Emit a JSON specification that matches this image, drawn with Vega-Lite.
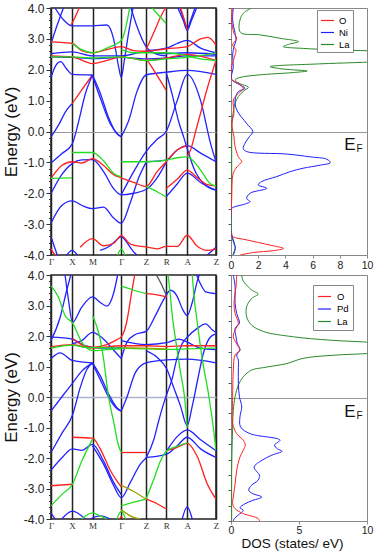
{
"$schema":"https://vega.github.io/schema/vega-lite/v6.json",
"padding":{"left":1,"top":1,"right":0,"bottom":0},
"config":{"font":"Liberation Sans","axis":{"labelFont":"Liberation Sans","titleFont":"Liberation Sans","labelOverlap":false}},
"datasets":{
"ef":[{"t":"E","d":8.75,"e":-0.45,"s":17},{"t":"F","d":9.45,"e":-0.58,"s":10}],
"bNi":[
{"b":"T1","c":"b","k":153,"e":-0.17},{"b":"T1","c":"b","k":175,"e":0.2},{"b":"T1","c":"b","k":200,"e":0.7},{"b":"T1","c":"b","k":216,"e":0.9},
{"b":"R1","c":"r","k":216,"e":0.9},{"b":"R1","c":"r","k":245,"e":1.35},{"b":"R1","c":"r","k":277,"e":1.83},
{"b":"T2","c":"b","k":153,"e":-1.02},{"b":"T2","c":"b","k":185,"e":-0.72},{"b":"T2","c":"b","k":216,"e":-0.41},{"b":"T2","c":"b","k":235,"e":0.3},{"b":"T2","c":"b","k":255,"e":1.2},{"b":"T2","c":"b","k":277,"e":1.83},
{"b":"T3","c":"b","k":277,"e":1.83},{"b":"T3","c":"b","k":300,"e":1.25},{"b":"T3","c":"b","k":325,"e":0.45},{"b":"T3","c":"b","k":348,"e":-0.05},{"b":"T3","c":"b","k":363,"e":-0.17},
{"b":"T4","c":"b","k":277,"e":1.8},{"b":"T4","c":"b","k":303,"e":1.0},{"b":"T4","c":"b","k":330,"e":0.25},{"b":"T4","c":"b","k":352,"e":-0.08},{"b":"T4","c":"b","k":363,"e":-0.17},
{"b":"T5","c":"b","k":363,"e":-0.17},{"b":"T5","c":"b","k":385,"e":0.35},{"b":"T5","c":"b","k":410,"e":1.3},{"b":"T5","c":"b","k":437,"e":1.83},{"b":"T5","c":"b","k":497,"e":1.92},{"b":"T5","c":"b","k":560,"e":1.98},{"b":"T5","c":"b","k":646,"e":1.85},
{"b":"T6","c":"b","k":153,"e":1.75},{"b":"T6","c":"b","k":168,"e":2.15},{"b":"T6","c":"b","k":182,"e":2.26},{"b":"T6","c":"b","k":198,"e":2.05},{"b":"T6","c":"b","k":216,"e":1.85},{"b":"T6","c":"b","k":277,"e":1.83},
{"b":"T7","c":"b","k":165,"e":4.0},{"b":"T7","c":"b","k":190,"e":3.62},{"b":"T7","c":"b","k":216,"e":3.42},{"b":"T7","c":"b","k":277,"e":3.42},{"b":"T7","c":"b","k":320,"e":3.45},{"b":"T7","c":"b","k":340,"e":3.0},{"b":"T7","c":"b","k":355,"e":2.1},{"b":"T7","c":"b","k":363,"e":1.75},{"b":"T7","c":"b","k":372,"e":2.3},{"b":"T7","c":"b","k":385,"e":3.2},{"b":"T7","c":"b","k":398,"e":4.0},
{"b":"T8","c":"b","k":153,"e":2.85},{"b":"T8","c":"b","k":170,"e":3.4},{"b":"T8","c":"b","k":190,"e":4.0},
{"b":"T9","c":"b","k":153,"e":2.52},{"b":"T9","c":"b","k":216,"e":2.58},{"b":"T9","c":"b","k":277,"e":2.45},{"b":"T9","c":"b","k":363,"e":2.45},{"b":"T9","c":"b","k":437,"e":2.58},{"b":"T9","c":"b","k":497,"e":2.52},{"b":"T9","c":"b","k":560,"e":2.55},{"b":"T9","c":"b","k":646,"e":2.5},
{"b":"T10","c":"b","k":153,"e":2.42},{"b":"T10","c":"b","k":216,"e":2.4},{"b":"T10","c":"b","k":277,"e":2.36},{"b":"T10","c":"b","k":363,"e":2.4},{"b":"T10","c":"b","k":437,"e":2.35},{"b":"T10","c":"b","k":497,"e":2.38},{"b":"T10","c":"b","k":560,"e":2.45},{"b":"T10","c":"b","k":646,"e":2.45},
{"b":"T11","c":"b","k":437,"e":2.62},{"b":"T11","c":"b","k":497,"e":2.7},{"b":"T11","c":"b","k":530,"e":2.85},{"b":"T11","c":"b","k":560,"e":2.95},{"b":"T11","c":"b","k":600,"e":2.7},{"b":"T11","c":"b","k":646,"e":2.55},
{"b":"T12","c":"b","k":532,"e":4.0},{"b":"T12","c":"b","k":548,"e":3.6},{"b":"T12","c":"b","k":560,"e":3.27},{"b":"T12","c":"b","k":573,"e":3.6},{"b":"T12","c":"b","k":588,"e":4.0},
{"b":"T12b","c":"b","k":538,"e":4.0},{"b":"T12b","c":"b","k":551,"e":3.6},{"b":"T12b","c":"b","k":560,"e":3.32},{"b":"T12b","c":"b","k":570,"e":3.6},{"b":"T12b","c":"b","k":583,"e":4.0},
{"b":"T13","c":"b","k":497,"e":1.92},{"b":"T13","c":"b","k":515,"e":1.2},{"b":"T13","c":"b","k":535,"e":0.3},{"b":"T13","c":"b","k":550,"e":-0.2},{"b":"T13","c":"b","k":560,"e":-0.55},{"b":"T13","c":"b","k":580,"e":-1.2},{"b":"T13","c":"b","k":610,"e":-1.7},{"b":"T13","c":"b","k":646,"e":-1.9},
{"b":"T14","c":"b","k":437,"e":-0.98},{"b":"T14","c":"b","k":497,"e":-0.93},{"b":"T14","c":"b","k":530,"e":-0.6},{"b":"T14","c":"b","k":560,"e":-0.46},{"b":"T14","c":"b","k":600,"e":-0.7},{"b":"T14","c":"b","k":646,"e":-0.98},
{"b":"T15","c":"b","k":363,"e":-2.05},{"b":"T15","c":"b","k":400,"e":-1.3},{"b":"T15","c":"b","k":437,"e":-0.65},{"b":"T15","c":"b","k":470,"e":-0.25},{"b":"T15","c":"b","k":497,"e":0.0},{"b":"T15","c":"b","k":530,"e":1.0},{"b":"T15","c":"b","k":560,"e":1.85},{"b":"T15","c":"b","k":600,"e":1.0},{"b":"T15","c":"b","k":630,"e":-0.4},{"b":"T15","c":"b","k":646,"e":-0.98},
{"b":"T16","c":"b","k":153,"e":-2.01},{"b":"T16","c":"b","k":185,"e":-1.4},{"b":"T16","c":"b","k":216,"e":-1.04},{"b":"T16","c":"b","k":245,"e":-0.92},{"b":"T16","c":"b","k":277,"e":-0.91},{"b":"T16","c":"b","k":310,"e":-1.3},{"b":"T16","c":"b","k":340,"e":-1.85},{"b":"T16","c":"b","k":363,"e":-2.05},{"b":"T16","c":"b","k":400,"e":-2.0},{"b":"T16","c":"b","k":437,"e":-1.88},{"b":"T16","c":"b","k":470,"e":-1.5},{"b":"T16","c":"b","k":497,"e":-1.0},
{"b":"T17","c":"b","k":153,"e":-2.97},{"b":"T17","c":"b","k":185,"e":-2.4},{"b":"T17","c":"b","k":216,"e":-2.25},{"b":"T17","c":"b","k":250,"e":-2.42},{"b":"T17","c":"b","k":277,"e":-2.5},{"b":"T17","c":"b","k":310,"e":-2.45},{"b":"T17","c":"b","k":340,"e":-2.8},{"b":"T17","c":"b","k":363,"e":-2.97},{"b":"T17","c":"b","k":390,"e":-2.3},{"b":"T17","c":"b","k":415,"e":-1.5},{"b":"T17","c":"b","k":437,"e":-1.0},
{"b":"T18","c":"b","k":153,"e":-3.4},{"b":"T18","c":"b","k":162,"e":-3.7},{"b":"T18","c":"b","k":172,"e":-4.0},
{"b":"T19","c":"b","k":200,"e":-4.0},{"b":"T19","c":"b","k":216,"e":-3.85},{"b":"T19","c":"b","k":232,"e":-4.0},
{"b":"T20","c":"b","k":300,"e":-3.85},{"b":"T20","c":"b","k":330,"e":-3.7},{"b":"T20","c":"b","k":350,"e":-3.5},{"b":"T20","c":"b","k":363,"e":-3.4},{"b":"T20","c":"b","k":380,"e":-3.6},{"b":"T20","c":"b","k":400,"e":-3.9},{"b":"T20","c":"b","k":410,"e":-4.0},
{"b":"T21","c":"b","k":497,"e":-2.12},{"b":"T21","c":"b","k":530,"e":-1.7},{"b":"T21","c":"b","k":560,"e":-1.35},{"b":"T21","c":"b","k":600,"e":-1.65},{"b":"T21","c":"b","k":646,"e":-1.9},
{"b":"T23","c":"b","k":620,"e":-4.0},{"b":"T23","c":"b","k":646,"e":-3.75},
{"b":"T25","c":"b","k":392,"e":4.0},{"b":"T25","c":"b","k":410,"e":3.4},{"b":"T25","c":"b","k":437,"e":2.75},{"b":"T25","c":"b","k":470,"e":2.5},{"b":"T25","c":"b","k":497,"e":2.45},
{"b":"R2","c":"r","k":153,"e":2.9},{"b":"R2","c":"r","k":216,"e":2.85},{"b":"R2","c":"r","k":245,"e":2.62},{"b":"R2","c":"r","k":277,"e":2.55},{"b":"R2","c":"r","k":320,"e":2.65},{"b":"R2","c":"r","k":363,"e":2.75},{"b":"R2","c":"r","k":400,"e":2.62},{"b":"R2","c":"r","k":437,"e":2.6},{"b":"R2","c":"r","k":497,"e":2.68},{"b":"R2","c":"r","k":560,"e":2.75},{"b":"R2","c":"r","k":600,"e":3.0},{"b":"R2","c":"r","k":622,"e":3.05},{"b":"R2","c":"r","k":646,"e":2.8},
{"b":"R3","c":"r","k":153,"e":2.45},{"b":"R3","c":"r","k":216,"e":2.42},{"b":"R3","c":"r","k":277,"e":2.2},{"b":"R3","c":"r","k":320,"e":2.3},{"b":"R3","c":"r","k":363,"e":2.42},{"b":"R3","c":"r","k":437,"e":2.3},{"b":"R3","c":"r","k":497,"e":2.38},{"b":"R3","c":"r","k":560,"e":2.5},{"b":"R3","c":"r","k":646,"e":2.3},
{"b":"R4","c":"r","k":437,"e":2.37},{"b":"R4","c":"r","k":465,"e":1.9},{"b":"R4","c":"r","k":497,"e":1.34},
{"b":"R5","c":"r","k":560,"e":-0.8},{"b":"R5","c":"r","k":570,"e":-0.6},{"b":"R5","c":"r","k":585,"e":0.0},{"b":"R5","c":"r","k":600,"e":0.6},{"b":"R5","c":"r","k":620,"e":1.4},{"b":"R5","c":"r","k":646,"e":2.3},
{"b":"R6","c":"r","k":213,"e":3.45},{"b":"R6","c":"r","k":225,"e":3.7},{"b":"R6","c":"r","k":237,"e":4.0},
{"b":"R7","c":"r","k":153,"e":-1.52},{"b":"R7","c":"r","k":185,"e":-1.1},{"b":"R7","c":"r","k":216,"e":-0.98},{"b":"R7","c":"r","k":245,"e":-1.02},{"b":"R7","c":"r","k":277,"e":-0.88},{"b":"R7","c":"r","k":310,"e":-1.1},{"b":"R7","c":"r","k":340,"e":-1.4},{"b":"R7","c":"r","k":363,"e":-1.5},{"b":"R7","c":"r","k":400,"e":-1.65},{"b":"R7","c":"r","k":437,"e":-1.78},{"b":"R7","c":"r","k":470,"e":-1.3},{"b":"R7","c":"r","k":497,"e":-0.98},{"b":"R7","c":"r","k":530,"e":-0.6},{"b":"R7","c":"r","k":560,"e":-0.46},
{"b":"R8","c":"r","k":497,"e":-1.85},{"b":"R8","c":"r","k":530,"e":-1.55},{"b":"R8","c":"r","k":560,"e":-1.25},{"b":"R8","c":"r","k":590,"e":-1.5},{"b":"R8","c":"r","k":620,"e":-1.72},{"b":"R8","c":"r","k":646,"e":-1.76},
{"b":"R9","c":"r","k":153,"e":-3.8},{"b":"R9","c":"r","k":162,"e":-3.95},{"b":"R9","c":"r","k":168,"e":-4.0},
{"b":"R10","c":"r","k":240,"e":-3.75},{"b":"R10","c":"r","k":277,"e":-3.47},{"b":"R10","c":"r","k":310,"e":-3.7},{"b":"R10","c":"r","k":340,"e":-3.62},{"b":"R10","c":"r","k":363,"e":-3.37},{"b":"R10","c":"r","k":390,"e":-3.65},{"b":"R10","c":"r","k":437,"e":-3.74},{"b":"R10","c":"r","k":470,"e":-3.8},{"b":"R10","c":"r","k":497,"e":-3.72},{"b":"R10","c":"r","k":530,"e":-3.72},{"b":"R10","c":"r","k":560,"e":-3.36},{"b":"R10","c":"r","k":590,"e":-3.72},{"b":"R10","c":"r","k":620,"e":-3.85},{"b":"R10","c":"r","k":646,"e":-3.8},
{"b":"R11","c":"r","k":540,"e":4.0},{"b":"R11","c":"r","k":552,"e":3.6},{"b":"R11","c":"r","k":560,"e":3.3},
{"b":"R12","c":"r","k":437,"e":2.65},{"b":"R12","c":"r","k":460,"e":3.2},{"b":"R12","c":"r","k":480,"e":3.7},{"b":"R12","c":"r","k":495,"e":4.0},
{"b":"G1","c":"g","k":153,"e":-1.52},{"b":"G1","c":"g","k":216,"e":-1.5},
{"b":"G2","c":"g","k":216,"e":-0.68},{"b":"G2","c":"g","k":277,"e":-0.68},{"b":"G2","c":"g","k":310,"e":-0.95},{"b":"G2","c":"g","k":340,"e":-1.35},{"b":"G2","c":"g","k":363,"e":-1.47},
{"b":"G3","c":"g","k":363,"e":-0.98},{"b":"G3","c":"g","k":437,"e":-0.98},{"b":"G3","c":"g","k":497,"e":-0.93},{"b":"G3","c":"g","k":530,"e":-0.85},{"b":"G3","c":"g","k":560,"e":-0.82},{"b":"G3","c":"g","k":600,"e":-1.25},{"b":"G3","c":"g","k":630,"e":-1.7},{"b":"G3","c":"g","k":646,"e":-1.76},
{"b":"G4","c":"g","k":437,"e":-1.78},{"b":"G4","c":"g","k":470,"e":-1.95},{"b":"G4","c":"g","k":497,"e":-2.12},
{"b":"G5","c":"g","k":216,"e":2.85},{"b":"G5","c":"g","k":245,"e":2.65},{"b":"G5","c":"g","k":277,"e":2.55},{"b":"G5","c":"g","k":320,"e":2.7},{"b":"G5","c":"g","k":350,"e":2.85},{"b":"G5","c":"g","k":363,"e":2.95},{"b":"G5","c":"g","k":375,"e":3.3},{"b":"G5","c":"g","k":388,"e":4.0},
{"b":"G6","c":"g","k":363,"e":2.65},{"b":"G6","c":"g","k":400,"e":2.55},{"b":"G6","c":"g","k":437,"e":2.55},{"b":"G6","c":"g","k":497,"e":2.55},{"b":"G6","c":"g","k":560,"e":2.45},{"b":"G6","c":"g","k":600,"e":2.35},{"b":"G6","c":"g","k":646,"e":2.3},
{"b":"G7","c":"g","k":153,"e":2.42},{"b":"G7","c":"g","k":216,"e":2.42},{"b":"G7","c":"g","k":277,"e":2.38},{"b":"G7","c":"g","k":363,"e":2.42},{"b":"G7","c":"g","k":437,"e":2.3},{"b":"G7","c":"g","k":497,"e":2.35},{"b":"G7","c":"g","k":560,"e":2.4},{"b":"G7","c":"g","k":646,"e":2.55},
{"b":"G8","c":"g","k":455,"e":4.0},{"b":"G8","c":"g","k":480,"e":3.7},{"b":"G8","c":"g","k":497,"e":3.5},
{"b":"G9","c":"g","k":352,"e":-4.0},{"b":"G9","c":"g","k":363,"e":-3.8},{"b":"G9","c":"g","k":374,"e":-4.0}
],
"bPd":[
{"b":"P1","c":"b","k":153,"e":-0.46},{"b":"P1","c":"b","k":185,"e":0.0},{"b":"P1","c":"b","k":217,"e":0.45},{"b":"P1","c":"b","k":245,"e":0.85},{"b":"P1","c":"b","k":277,"e":1.12},
{"b":"P2","c":"b","k":153,"e":-1.82},{"b":"P2","c":"b","k":185,"e":-1.2},{"b":"P2","c":"b","k":217,"e":-0.6},{"b":"P2","c":"b","k":240,"e":0.3},{"b":"P2","c":"b","k":260,"e":0.9},{"b":"P2","c":"b","k":277,"e":1.12},
{"b":"P3","c":"b","k":277,"e":1.12},{"b":"P3","c":"b","k":300,"e":0.7},{"b":"P3","c":"b","k":325,"e":0.1},{"b":"P3","c":"b","k":350,"e":-0.35},{"b":"P3","c":"b","k":363,"e":-0.46},
{"b":"P4","c":"b","k":277,"e":1.1},{"b":"P4","c":"b","k":303,"e":0.5},{"b":"P4","c":"b","k":330,"e":-0.1},{"b":"P4","c":"b","k":352,"e":-0.4},{"b":"P4","c":"b","k":363,"e":-0.46},
{"b":"P5","c":"b","k":363,"e":-0.46},{"b":"P5","c":"b","k":380,"e":0.0},{"b":"P5","c":"b","k":405,"e":0.8},{"b":"P5","c":"b","k":437,"e":1.12},{"b":"P5","c":"b","k":499,"e":1.22},{"b":"P5","c":"b","k":560,"e":1.24},{"b":"P5","c":"b","k":646,"e":1.12},
{"b":"P6","c":"b","k":153,"e":1.26},{"b":"P6","c":"b","k":180,"e":1.45},{"b":"P6","c":"b","k":217,"e":1.2},{"b":"P6","c":"b","k":277,"e":1.12},
{"b":"P7","c":"b","k":363,"e":1.26},{"b":"P7","c":"b","k":380,"e":1.8},{"b":"P7","c":"b","k":405,"e":2.05},{"b":"P7","c":"b","k":437,"e":2.15},{"b":"P7","c":"b","k":465,"e":2.67},{"b":"P7","c":"b","k":490,"e":3.2},{"b":"P7","c":"b","k":510,"e":3.5},{"b":"P7","c":"b","k":530,"e":3.3},{"b":"P7","c":"b","k":545,"e":2.9},{"b":"P7","c":"b","k":560,"e":2.67},{"b":"P7","c":"b","k":575,"e":3.1},{"b":"P7","c":"b","k":590,"e":3.8},{"b":"P7","c":"b","k":596,"e":4.0},
{"b":"P8","c":"b","k":588,"e":4.0},{"b":"P8","c":"b","k":600,"e":3.7},{"b":"P8","c":"b","k":615,"e":3.45},{"b":"P8","c":"b","k":646,"e":3.39},
{"b":"P9","c":"b","k":195,"e":4.0},{"b":"P9","c":"b","k":205,"e":3.2},{"b":"P9","c":"b","k":217,"e":2.45},{"b":"P9","c":"b","k":245,"e":2.95},{"b":"P9","c":"b","k":277,"e":3.28},{"b":"P9","c":"b","k":300,"e":3.1},{"b":"P9","c":"b","k":320,"e":2.98},{"b":"P9","c":"b","k":340,"e":3.4},{"b":"P9","c":"b","k":352,"e":4.0},
{"b":"P10","c":"b","k":153,"e":1.96},{"b":"P10","c":"b","k":217,"e":1.9},{"b":"P10","c":"b","k":250,"e":1.7},{"b":"P10","c":"b","k":277,"e":1.63},{"b":"P10","c":"b","k":330,"e":1.6},{"b":"P10","c":"b","k":363,"e":1.62},
{"b":"P11","c":"b","k":217,"e":1.75},{"b":"P11","c":"b","k":245,"e":1.85},{"b":"P11","c":"b","k":277,"e":2.12},{"b":"P11","c":"b","k":305,"e":1.95},{"b":"P11","c":"b","k":335,"e":1.6},{"b":"P11","c":"b","k":363,"e":1.26},
{"b":"P12","c":"b","k":363,"e":1.85},{"b":"P12","c":"b","k":437,"e":1.72},{"b":"P12","c":"b","k":499,"e":1.78},{"b":"P12","c":"b","k":535,"e":1.9},{"b":"P12","c":"b","k":560,"e":1.8},{"b":"P12","c":"b","k":600,"e":1.6},{"b":"P12","c":"b","k":646,"e":1.55},
{"b":"P13","c":"b","k":437,"e":1.52},{"b":"P13","c":"b","k":470,"e":1.3},{"b":"P13","c":"b","k":499,"e":0.92},{"b":"P13","c":"b","k":520,"e":0.3},{"b":"P13","c":"b","k":540,"e":-0.3},{"b":"P13","c":"b","k":560,"e":-0.94},{"b":"P13","c":"b","k":575,"e":-0.3},{"b":"P13","c":"b","k":590,"e":0.5},{"b":"P13","c":"b","k":610,"e":1.5},{"b":"P13","c":"b","k":628,"e":1.95},{"b":"P13","c":"b","k":646,"e":2.07},
{"b":"P14","c":"b","k":499,"e":-1.76},{"b":"P14","c":"b","k":530,"e":-1.3},{"b":"P14","c":"b","k":560,"e":-1.08},{"b":"P14","c":"b","k":600,"e":-1.4},{"b":"P14","c":"b","k":646,"e":-1.76},
{"b":"P15","c":"b","k":437,"e":-2.0},{"b":"P15","c":"b","k":460,"e":-1.4},{"b":"P15","c":"b","k":475,"e":-0.77},{"b":"P15","c":"b","k":490,"e":-0.2},{"b":"P15","c":"b","k":499,"e":0.1},{"b":"P15","c":"b","k":515,"e":0.6},{"b":"P15","c":"b","k":530,"e":1.3},{"b":"P15","c":"b","k":545,"e":1.75},{"b":"P15","c":"b","k":560,"e":1.96},{"b":"P15","c":"b","k":590,"e":2.25},{"b":"P15","c":"b","k":615,"e":2.4},{"b":"P15","c":"b","k":635,"e":2.2},{"b":"P15","c":"b","k":646,"e":2.12},
{"b":"P16","c":"b","k":437,"e":-1.98},{"b":"P16","c":"b","k":499,"e":-1.87},{"b":"P16","c":"b","k":530,"e":-1.6},{"b":"P16","c":"b","k":560,"e":-1.32},{"b":"P16","c":"b","k":600,"e":-1.7},{"b":"P16","c":"b","k":646,"e":-1.98},
{"b":"P17","c":"b","k":277,"e":-1.6},{"b":"P17","c":"b","k":310,"e":-2.2},{"b":"P17","c":"b","k":340,"e":-2.9},{"b":"P17","c":"b","k":363,"e":-3.3},{"b":"P17","c":"b","k":390,"e":-2.8},{"b":"P17","c":"b","k":420,"e":-2.2},{"b":"P17","c":"b","k":437,"e":-2.0},
{"b":"P18","c":"b","k":153,"e":-2.4},{"b":"P18","c":"b","k":185,"e":-2.0},{"b":"P18","c":"b","k":217,"e":-1.7},{"b":"P18","c":"b","k":245,"e":-1.75},{"b":"P18","c":"b","k":277,"e":-1.55},{"b":"P18","c":"b","k":310,"e":-2.1},{"b":"P18","c":"b","k":340,"e":-2.8},{"b":"P18","c":"b","k":363,"e":-3.2},
{"b":"P19","c":"b","k":185,"e":-4.0},{"b":"P19","c":"b","k":217,"e":-3.74},{"b":"P19","c":"b","k":255,"e":-4.0},
{"b":"P20","c":"b","k":270,"e":-4.0},{"b":"P20","c":"b","k":300,"e":-3.9},{"b":"P20","c":"b","k":330,"e":-4.0},
{"b":"P21","c":"b","k":545,"e":-4.0},{"b":"P21","c":"b","k":560,"e":-3.6},{"b":"P21","c":"b","k":575,"e":-4.0},
{"b":"P22","c":"b","k":153,"e":-3.8},{"b":"P22","c":"b","k":165,"e":-4.0},
{"b":"P24","c":"b","k":153,"e":1.85},{"b":"P24","c":"b","k":180,"e":2.6},{"b":"P24","c":"b","k":200,"e":3.5},{"b":"P24","c":"b","k":212,"e":4.0},
{"b":"Q1","c":"r","k":217,"e":1.92},{"b":"Q1","c":"r","k":245,"e":1.72},{"b":"Q1","c":"r","k":277,"e":1.63},{"b":"Q1","c":"r","k":320,"e":1.72},{"b":"Q1","c":"r","k":350,"e":1.88},{"b":"Q1","c":"r","k":363,"e":1.97},{"b":"Q1","c":"r","k":380,"e":2.5},{"b":"Q1","c":"r","k":392,"e":3.3},{"b":"Q1","c":"r","k":403,"e":4.0},
{"b":"Q2","c":"r","k":153,"e":1.65},{"b":"Q2","c":"r","k":217,"e":1.72},{"b":"Q2","c":"r","k":277,"e":1.6},{"b":"Q2","c":"r","k":363,"e":1.68},{"b":"Q2","c":"r","k":437,"e":1.68},{"b":"Q2","c":"r","k":499,"e":1.65},{"b":"Q2","c":"r","k":560,"e":1.68},{"b":"Q2","c":"r","k":646,"e":1.68},
{"b":"Q3","c":"r","k":437,"e":3.39},{"b":"Q3","c":"r","k":470,"e":3.35},{"b":"Q3","c":"r","k":499,"e":3.28},
{"b":"Q4","c":"r","k":153,"e":-2.91},{"b":"Q4","c":"r","k":217,"e":-2.86},
{"b":"Q5","c":"r","k":217,"e":-1.32},{"b":"Q5","c":"r","k":277,"e":-1.35},{"b":"Q5","c":"r","k":300,"e":-1.7},{"b":"Q5","c":"r","k":330,"e":-2.4},{"b":"Q5","c":"r","k":363,"e":-2.95},
{"b":"Q6","c":"r","k":363,"e":-1.82},{"b":"Q6","c":"r","k":437,"e":-1.82},
{"b":"Q7","c":"r","k":437,"e":-3.35},{"b":"Q7","c":"r","k":470,"e":-3.5},{"b":"Q7","c":"r","k":499,"e":-3.68},
{"b":"Q8","c":"r","k":499,"e":-1.76},{"b":"Q8","c":"r","k":530,"e":-1.65},{"b":"Q8","c":"r","k":560,"e":-1.52},{"b":"Q8","c":"r","k":590,"e":-1.95},{"b":"Q8","c":"r","k":620,"e":-2.85},{"b":"Q8","c":"r","k":646,"e":-3.35},
{"b":"Q9","c":"r","k":358,"e":-4.0},{"b":"Q9","c":"r","k":363,"e":-3.92},{"b":"Q9","c":"r","k":368,"e":-4.0},
{"b":"H1","c":"g","k":153,"e":3.64},{"b":"H1","c":"g","k":175,"e":3.28},{"b":"H1","c":"g","k":195,"e":2.67},{"b":"H1","c":"g","k":217,"e":2.43},{"b":"H1","c":"g","k":245,"e":1.8},{"b":"H1","c":"g","k":277,"e":1.52},{"b":"H1","c":"g","k":320,"e":1.55},{"b":"H1","c":"g","k":363,"e":1.58},
{"b":"H2","c":"g","k":153,"e":1.6},{"b":"H2","c":"g","k":217,"e":1.7},{"b":"H2","c":"g","k":260,"e":1.62},{"b":"H2","c":"g","k":300,"e":1.62},{"b":"H2","c":"g","k":363,"e":1.6},{"b":"H2","c":"g","k":437,"e":1.58},{"b":"H2","c":"g","k":499,"e":1.56},{"b":"H2","c":"g","k":560,"e":1.58},{"b":"H2","c":"g","k":646,"e":1.6},
{"b":"H3","c":"g","k":277,"e":2.67},{"b":"H3","c":"g","k":290,"e":2.3},{"b":"H3","c":"g","k":300,"e":1.9},{"b":"H3","c":"g","k":310,"e":1.25},{"b":"H3","c":"g","k":325,"e":0.0},{"b":"H3","c":"g","k":340,"e":-0.8},{"b":"H3","c":"g","k":355,"e":-1.6},{"b":"H3","c":"g","k":363,"e":-1.82},
{"b":"H5","c":"g","k":363,"e":3.64},{"b":"H5","c":"g","k":400,"e":3.5},{"b":"H5","c":"g","k":437,"e":3.39},
{"b":"H6","c":"g","k":503,"e":4.0},{"b":"H6","c":"g","k":508,"e":3.5},{"b":"H6","c":"g","k":515,"e":2.7},{"b":"H6","c":"g","k":525,"e":1.9},{"b":"H6","c":"g","k":540,"e":0.8},{"b":"H6","c":"g","k":552,"e":0.0},{"b":"H6","c":"g","k":560,"e":-1.0},
{"b":"H7","c":"g","k":575,"e":4.0},{"b":"H7","c":"g","k":580,"e":3.33},{"b":"H7","c":"g","k":590,"e":2.45},{"b":"H7","c":"g","k":605,"e":1.24},{"b":"H7","c":"g","k":625,"e":0.0},{"b":"H7","c":"g","k":638,"e":-1.0},{"b":"H7","c":"g","k":646,"e":-1.76},
{"b":"H8","c":"g","k":437,"e":-3.35},{"b":"H8","c":"g","k":460,"e":-2.7},{"b":"H8","c":"g","k":480,"e":-2.1},{"b":"H8","c":"g","k":499,"e":-1.76},{"b":"H8","c":"g","k":530,"e":-1.62},{"b":"H8","c":"g","k":560,"e":-1.5},
{"b":"H9","c":"g","k":363,"e":-3.57},{"b":"H9","c":"g","k":400,"e":-3.45},{"b":"H9","c":"g","k":437,"e":-3.35},
{"b":"H10","c":"g","k":153,"e":-3.57},{"b":"H10","c":"g","k":185,"e":-3.2},{"b":"H10","c":"g","k":217,"e":-2.86},{"b":"H10","c":"g","k":245,"e":-2.1},{"b":"H10","c":"g","k":277,"e":-1.38},
{"b":"H11","c":"g","k":245,"e":-4.0},{"b":"H11","c":"g","k":277,"e":-3.8},{"b":"H11","c":"g","k":300,"e":-3.9},{"b":"H11","c":"g","k":320,"e":-4.0},
{"b":"H12","c":"g","k":350,"e":-4.0},{"b":"H12","c":"g","k":363,"e":-3.75},{"b":"H12","c":"g","k":376,"e":-4.0},
{"b":"O1","c":"o","k":363,"e":-2.9},{"b":"O1","c":"o","k":400,"e":-3.1},{"b":"O1","c":"o","k":437,"e":-3.35},
{"b":"O2","c":"o","k":363,"e":-3.7},{"b":"O2","c":"o","k":400,"e":-3.95},{"b":"O2","c":"o","k":420,"e":-4.0},
{"b":"O3","c":"o","k":363,"e":1.62},{"b":"O3","c":"o","k":437,"e":1.6},{"b":"O3","c":"o","k":499,"e":1.58},
{"b":"K1","c":"k","k":468,"e":4.0},{"b":"K1","c":"k","k":485,"e":3.65},{"b":"K1","c":"k","k":499,"e":3.3}
],
"dNi":[
{"s":"La","e":4.0,"d":1.52},{"s":"La","e":3.83,"d":0.91},{"s":"La","e":3.61,"d":0.66},{"s":"La","e":3.29,"d":0.61},{"s":"La","e":3.18,"d":0.79},{"s":"La","e":3.13,"d":2.14},{"s":"La","e":3.02,"d":3.6},{"s":"La","e":2.91,"d":4.96},{"s":"La","e":2.83,"d":4.3},{"s":"La","e":2.75,"d":3.85},{"s":"La","e":2.69,"d":5.33},{"s":"La","e":2.64,"d":8.0},{"s":"La","e":2.57,"d":12},{"s":"La","e":2.42,"d":14},{"s":"La","e":2.29,"d":12},{"s":"La","e":2.23,"d":9.0},{"s":"La","e":2.19,"d":6.5},{"s":"La","e":2.1,"d":2.87},{"s":"La","e":2.02,"d":3.9},{"s":"La","e":1.96,"d":5.6},{"s":"La","e":1.91,"d":4.6},{"s":"La","e":1.83,"d":2.0},{"s":"La","e":1.75,"d":0.66},{"s":"La","e":1.67,"d":0.3},{"s":"La","e":1.56,"d":0.6},{"s":"La","e":1.43,"d":1.28},{"s":"La","e":1.32,"d":0.95},{"s":"La","e":1.13,"d":0.54},{"s":"La","e":0.91,"d":0.3},{"s":"La","e":0.48,"d":0.12},{"s":"La","e":0.0,"d":0.06},{"s":"La","e":-0.6,"d":0.05},{"s":"La","e":-1.67,"d":0.05},{"s":"La","e":-2.43,"d":0.02},{"s":"La","e":-3.3,"d":0.05},{"s":"La","e":-3.62,"d":0.2},{"s":"La","e":-3.75,"d":0.32},{"s":"La","e":-3.86,"d":0.25},{"s":"La","e":-4.0,"d":0.12},
{"s":"Ni","e":4.0,"d":0.17},{"s":"Ni","e":3.61,"d":0.12},{"s":"Ni","e":3.18,"d":0.3},{"s":"Ni","e":2.96,"d":0.37},{"s":"Ni","e":2.75,"d":0.22},{"s":"Ni","e":2.48,"d":0.12},{"s":"Ni","e":2.1,"d":0.17},{"s":"Ni","e":1.69,"d":0.05},{"s":"Ni","e":1.51,"d":0.66},{"s":"Ni","e":1.4,"d":1.03},{"s":"Ni","e":1.29,"d":0.54},{"s":"Ni","e":1.02,"d":0.3},{"s":"Ni","e":0.7,"d":0.42},{"s":"Ni","e":0.26,"d":1.15},{"s":"Ni","e":0.0,"d":1.6},{"s":"Ni","e":-0.17,"d":1.35},{"s":"Ni","e":-0.38,"d":1.03},{"s":"Ni","e":-0.55,"d":0.9},{"s":"Ni","e":-0.65,"d":1.15},{"s":"Ni","e":-0.73,"d":4.1},{"s":"Ni","e":-0.82,"d":5.8},{"s":"Ni","e":-0.9,"d":7.05},{"s":"Ni","e":-1.01,"d":7.3},{"s":"Ni","e":-1.09,"d":6.56},{"s":"Ni","e":-1.19,"d":5.3},{"s":"Ni","e":-1.3,"d":4.35},{"s":"Ni","e":-1.46,"d":3.37},{"s":"Ni","e":-1.62,"d":2.26},{"s":"Ni","e":-1.73,"d":2.0},{"s":"Ni","e":-1.84,"d":2.63},{"s":"Ni","e":-2.0,"d":1.4},{"s":"Ni","e":-2.17,"d":1.15},{"s":"Ni","e":-2.27,"d":1.4},{"s":"Ni","e":-2.35,"d":1.03},{"s":"Ni","e":-2.49,"d":0.05},{"s":"Ni","e":-2.65,"d":0.0},{"s":"Ni","e":-3.3,"d":0.0},{"s":"Ni","e":-3.51,"d":0.17},{"s":"Ni","e":-3.73,"d":0.3},{"s":"Ni","e":-3.84,"d":0.3},{"s":"Ni","e":-4.0,"d":0.17},
{"s":"O","e":4.0,"d":0.12},{"s":"O","e":3.61,"d":0.05},{"s":"O","e":3.18,"d":0.22},{"s":"O","e":3.02,"d":0.42},{"s":"O","e":2.8,"d":0.12},{"s":"O","e":2.64,"d":0.37},{"s":"O","e":2.48,"d":0.3},{"s":"O","e":2.1,"d":0.05},{"s":"O","e":1.69,"d":0.05},{"s":"O","e":1.56,"d":0.54},{"s":"O","e":1.4,"d":0.9},{"s":"O","e":1.18,"d":0.42},{"s":"O","e":1.02,"d":0.17},{"s":"O","e":0.59,"d":0.22},{"s":"O","e":0.26,"d":0.05},{"s":"O","e":-0.17,"d":0.22},{"s":"O","e":-0.49,"d":0.3},{"s":"O","e":-0.82,"d":0.54},{"s":"O","e":-0.98,"d":0.79},{"s":"O","e":-1.09,"d":0.55},{"s":"O","e":-1.35,"d":0.17},{"s":"O","e":-2.22,"d":0.05},{"s":"O","e":-3.3,"d":0.0},{"s":"O","e":-3.41,"d":0.17},{"s":"O","e":-3.51,"d":1.15},{"s":"O","e":-3.68,"d":2.87},{"s":"O","e":-3.79,"d":3.86},{"s":"O","e":-3.86,"d":3.1},{"s":"O","e":-3.92,"d":1.65},{"s":"O","e":-4.0,"d":0.66}
],
"dPd":[
{"s":"La","e":4.0,"d":0.79},{"s":"La","e":3.84,"d":0.86},{"s":"La","e":3.73,"d":1.03},{"s":"La","e":3.51,"d":1.52},{"s":"La","e":3.38,"d":2.0},{"s":"La","e":3.24,"d":1.52},{"s":"La","e":2.97,"d":1.15},{"s":"La","e":2.64,"d":1.15},{"s":"La","e":2.37,"d":1.52},{"s":"La","e":2.16,"d":2.4},{"s":"La","e":1.99,"d":4.6},{"s":"La","e":1.88,"d":7.3},{"s":"La","e":1.8,"d":10.5},{"s":"La","e":1.67,"d":13},{"s":"La","e":1.56,"d":13},{"s":"La","e":1.45,"d":10.2},{"s":"La","e":1.39,"d":7.5},{"s":"La","e":1.29,"d":5.3},{"s":"La","e":1.12,"d":4.1},{"s":"La","e":0.99,"d":2.4},{"s":"La","e":0.91,"d":1.52},{"s":"La","e":0.69,"d":0.9},{"s":"La","e":0.42,"d":0.54},{"s":"La","e":0.04,"d":0.3},{"s":"La","e":-0.4,"d":0.17},{"s":"La","e":-1.27,"d":0.1},{"s":"La","e":-2.35,"d":0.05},{"s":"La","e":-4.0,"d":0.05},
{"s":"Pd","e":4.0,"d":0.17},{"s":"Pd","e":3.62,"d":0.3},{"s":"Pd","e":3.08,"d":0.3},{"s":"Pd","e":2.75,"d":0.42},{"s":"Pd","e":2.43,"d":0.62},{"s":"Pd","e":2.26,"d":0.3},{"s":"Pd","e":1.99,"d":0.37},{"s":"Pd","e":1.77,"d":0.47},{"s":"Pd","e":1.56,"d":0.66},{"s":"Pd","e":1.4,"d":0.42},{"s":"Pd","e":1.23,"d":0.54},{"s":"Pd","e":0.91,"d":0.54},{"s":"Pd","e":0.47,"d":0.54},{"s":"Pd","e":0.04,"d":0.62},{"s":"Pd","e":-0.29,"d":0.79},{"s":"Pd","e":-0.61,"d":0.66},{"s":"Pd","e":-0.94,"d":0.7},{"s":"Pd","e":-1.16,"d":1.4},{"s":"Pd","e":-1.37,"d":3.6},{"s":"Pd","e":-1.53,"d":3.2},{"s":"Pd","e":-1.65,"d":3.4},{"s":"Pd","e":-1.73,"d":3.75},{"s":"Pd","e":-1.86,"d":3.0},{"s":"Pd","e":-2.02,"d":2.3},{"s":"Pd","e":-2.24,"d":1.7},{"s":"Pd","e":-2.4,"d":1.9},{"s":"Pd","e":-2.51,"d":2.1},{"s":"Pd","e":-2.67,"d":2.0},{"s":"Pd","e":-2.84,"d":1.5},{"s":"Pd","e":-3.0,"d":1.3},{"s":"Pd","e":-3.11,"d":1.6},{"s":"Pd","e":-3.22,"d":2.26},{"s":"Pd","e":-3.33,"d":1.6},{"s":"Pd","e":-3.44,"d":1.03},{"s":"Pd","e":-3.57,"d":0.66},{"s":"Pd","e":-3.65,"d":0.9},{"s":"Pd","e":-3.82,"d":0.5},{"s":"Pd","e":-3.92,"d":0.25},{"s":"Pd","e":-4.0,"d":0.17},
{"s":"O","e":4.0,"d":0.42},{"s":"O","e":3.62,"d":0.37},{"s":"O","e":3.08,"d":0.22},{"s":"O","e":2.75,"d":0.3},{"s":"O","e":2.43,"d":0.54},{"s":"O","e":2.21,"d":0.3},{"s":"O","e":1.99,"d":0.17},{"s":"O","e":1.67,"d":0.54},{"s":"O","e":1.56,"d":0.66},{"s":"O","e":1.4,"d":0.3},{"s":"O","e":0.91,"d":0.17},{"s":"O","e":0.04,"d":0.12},{"s":"O","e":-0.4,"d":0.1},{"s":"O","e":-0.83,"d":0.12},{"s":"O","e":-1.16,"d":0.42},{"s":"O","e":-1.37,"d":0.9},{"s":"O","e":-1.53,"d":1.05},{"s":"O","e":-1.7,"d":0.9},{"s":"O","e":-1.92,"d":0.66},{"s":"O","e":-2.35,"d":0.42},{"s":"O","e":-2.79,"d":0.3},{"s":"O","e":-3.22,"d":0.17},{"s":"O","e":-3.44,"d":0.12},{"s":"O","e":-3.6,"d":0.3},{"s":"O","e":-3.76,"d":0.9},{"s":"O","e":-3.92,"d":2.0},{"s":"O","e":-4.0,"d":2.1}
]
},
"columns":2,
"bounds":"flush",
"spacing":{"row":20,"column":15},
"resolve":{"scale":{"color":"independent","x":"independent","y":"independent"},"axis":{"x":"independent","y":"independent"},"legend":{"color":"independent"}},
"concat":[
 {"width":165,"height":247,"view":{"stroke":"#222","strokeWidth":1.5},
  "data":{"name":"bNi"},"mark":{"type":"line","strokeWidth":1.3,"interpolate":"monotone","clip":true},
  "encoding":{
   "x":{"field":"k","type":"quantitative","scale":{"domain":[153,646],"nice":false,"zero":false},
    "axis":{"values":[153,216,277,363,437,497,560,646],"labelExpr":"datum.value==153||datum.value==363?'Γ':datum.value==216?'X':datum.value==277?'M':datum.value==497?'R':datum.value==560?'A':'Z'","title":null,"ticks":false,"domain":false,"grid":true,"gridColor":"#222","gridWidth":1.5,"gridOpacity":1,"labelFont":"Liberation Serif","labelFontSize":9,"labelPadding":2,"labelColor":"#333","labelFlush":false,"labelOverlap":false}},
   "y":{"field":"e","type":"quantitative","scale":{"domain":[-4,4],"nice":false,"zero":false},
    "axis":{"values":[-4,-3.8,-3.6,-3.4,-3.2,-3,-2.8,-2.6,-2.4,-2.2,-2,-1.8,-1.6,-1.4,-1.2,-1,-0.8,-0.6,-0.4,-0.2,0,0.2,0.4,0.6,0.8,1,1.2,1.4,1.6,1.8,2,2.2,2.4,2.6,2.8,3,3.2,3.4,3.6,3.8,4],
     "labelExpr":"abs(datum.value-round(datum.value))<0.01?((datum.value<0?'-':'')+format(abs(datum.value),'.1f')):''",
     "tickSize":{"condition":{"test":"abs(datum.value-round(datum.value))<0.01","value":5},"value":2.5},
     "grid":true,"gridColor":"#999","gridWidth":1,"gridOpacity":{"condition":{"test":"abs(datum.value)<0.01","value":1},"value":0},
     "labelOverlap":false,"labelFontSize":12,"labelColor":"#222","tickColor":"#333","domain":false,
     "title":"Energy (eV)","titleFontSize":17,"titleFontWeight":"normal","titleColor":"#111","titlePadding":3}},
   "detail":{"field":"b"},
   "color":{"field":"c","type":"nominal","scale":{"domain":["b","r","g","o","k"],"range":["#2222ff","#ff2020","#20dd20","#a0a000","#555555"]},"legend":null}}},
 {"width":136,"height":247,"view":{"stroke":"#888","strokeWidth":1},
  "encoding":{
   "x":{"field":"d","type":"quantitative","scale":{"domain":[0,10],"nice":false},"axis":{"values":[0,2,4,6,8,10],"title":null,"grid":false,"domain":false,"tickSize":3,"labelFontSize":10.5,"labelFlush":false,"labelOverlap":false,"labelColor":"#222"}},
   "y":{"field":"e","type":"quantitative","scale":{"domain":[-4,4],"nice":false,"zero":false},"axis":{"values":[-4,-3.5,-3,-2.5,-2,-1.5,-1,-0.5,0,0.5,1,1.5,2,2.5,3,3.5,4],"labels":false,"title":null,"domain":false,"tickSize":3,"tickColor":"#555","grid":true,"gridColor":"#999","gridWidth":1,"gridOpacity":{"condition":{"test":"abs(datum.value)<0.01","value":1},"value":0}}}},
  "layer":[
   {"data":{"name":"dNi"},"mark":{"type":"line","strokeWidth":1,"interpolate":"catmull-rom","clip":true},
    "encoding":{
     "order":{"field":"e","type":"quantitative"},
     "color":{"field":"s","type":"nominal","scale":{"domain":["O","Ni","La"],"range":["#ff2020","#2020ff","#2a8a2a"]},
      "legend":{"title":null,"orient":"none","legendX":86,"legendY":2,"fillColor":"white","strokeColor":"#888","padding":3,"symbolType":"stroke","symbolSize":170,"symbolStrokeWidth":1.2,"labelFontSize":9.5,"rowPadding":0,"labelOffset":4}}}},
   {"data":{"name":"ef"},"mark":{"type":"text","font":"Liberation Sans","color":"#111"},"encoding":{"text":{"field":"t"},"size":{"field":"s","type":"quantitative","scale":null}}}
  ]},
 {"width":165,"height":244,"view":{"stroke":"#222","strokeWidth":1.5},
  "data":{"name":"bPd"},"mark":{"type":"line","strokeWidth":1.3,"interpolate":"monotone","clip":true},
  "encoding":{
   "x":{"field":"k","type":"quantitative","scale":{"domain":[153,646],"nice":false,"zero":false},
    "axis":{"values":[153,216,277,363,437,497,560,646],"labelExpr":"datum.value==153||datum.value==363?'Γ':datum.value==216?'X':datum.value==277?'M':datum.value==497?'R':datum.value==560?'A':'Z'","title":null,"ticks":false,"domain":false,"grid":true,"gridColor":"#222","gridWidth":1.5,"gridOpacity":1,"labelFont":"Liberation Serif","labelFontSize":9,"labelPadding":2,"labelColor":"#333","labelFlush":false,"labelOverlap":false}},
   "y":{"field":"e","type":"quantitative","scale":{"domain":[-4,4],"nice":false,"zero":false},
    "axis":{"values":[-4,-3.8,-3.6,-3.4,-3.2,-3,-2.8,-2.6,-2.4,-2.2,-2,-1.8,-1.6,-1.4,-1.2,-1,-0.8,-0.6,-0.4,-0.2,0,0.2,0.4,0.6,0.8,1,1.2,1.4,1.6,1.8,2,2.2,2.4,2.6,2.8,3,3.2,3.4,3.6,3.8,4],
     "labelExpr":"abs(datum.value-round(datum.value))<0.01?((datum.value<0?'-':'')+format(abs(datum.value),'.1f')):''",
     "tickSize":{"condition":{"test":"abs(datum.value-round(datum.value))<0.01","value":5},"value":2.5},
     "grid":true,"gridColor":"#aab4cc","gridWidth":1.5,"gridOpacity":{"condition":{"test":"abs(datum.value)<0.01","value":1},"value":0},
     "labelOverlap":false,"labelFontSize":12,"labelColor":"#222","tickColor":"#333","domain":false,
     "title":"Energy (eV)","titleFontSize":17,"titleFontWeight":"normal","titleColor":"#111","titlePadding":3}},
   "detail":{"field":"b"},
   "color":{"field":"c","type":"nominal","scale":{"domain":["b","r","g","o","k"],"range":["#2222ff","#ff2020","#20dd20","#a0a000","#555555"]},"legend":null}}},
 {"width":136,"height":246,"view":{"stroke":"#888","strokeWidth":1},
  "encoding":{
   "x":{"field":"d","type":"quantitative","scale":{"domain":[0,10],"nice":false},"axis":{"values":[0,5,10],"title":"DOS (states/ eV)","titleX":61,"titleFontSize":13.5,"titleFontWeight":"normal","titleColor":"#111","titlePadding":1,"grid":false,"domain":false,"tickSize":3,"labelFontSize":10.5,"labelPadding":1,"labelFlush":false,"labelOverlap":false,"labelColor":"#222"}},
   "y":{"field":"e","type":"quantitative","scale":{"domain":[-4,4],"nice":false,"zero":false},"axis":{"values":[-4,-3.5,-3,-2.5,-2,-1.5,-1,-0.5,0,0.5,1,1.5,2,2.5,3,3.5,4],"labels":false,"title":null,"domain":false,"tickSize":3,"tickColor":"#555","grid":true,"gridColor":"#999","gridWidth":1,"gridOpacity":{"condition":{"test":"abs(datum.value)<0.01","value":1},"value":0}}}},
  "layer":[
   {"data":{"name":"dPd"},"mark":{"type":"line","strokeWidth":1,"interpolate":"catmull-rom","clip":true},
    "encoding":{
     "order":{"field":"e","type":"quantitative"},
     "color":{"field":"s","type":"nominal","scale":{"domain":["O","Pd","La"],"range":["#ff2020","#2020ff","#2a8a2a"]},
      "legend":{"title":null,"orient":"none","legendX":82,"legendY":10,"fillColor":"white","strokeColor":"#888","padding":4,"symbolType":"stroke","symbolSize":170,"symbolStrokeWidth":1.2,"labelFontSize":9.5,"rowPadding":0.5,"labelOffset":5}}}},
   {"data":{"name":"ef"},"mark":{"type":"text","font":"Liberation Sans","color":"#111"},"encoding":{"text":{"field":"t"},"size":{"field":"s","type":"quantitative","scale":null}}}
  ]}
]
}
